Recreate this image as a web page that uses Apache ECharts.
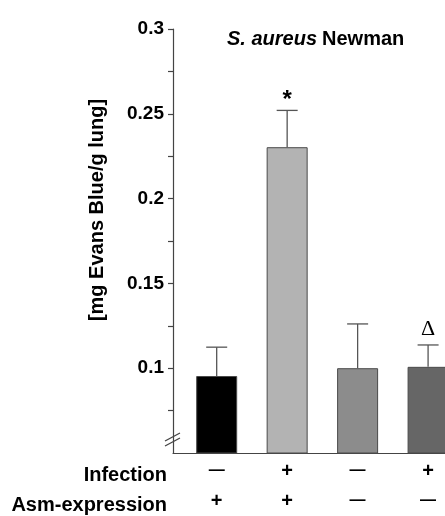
<!DOCTYPE html>
<html>
<head>
<meta charset="utf-8">
<script src="https://cdn.jsdelivr.net/npm/echarts@6/dist/echarts.min.js"></script>
<style>
  html, body { margin: 0; padding: 0; background: #fff; }
  #main { width: 445px; height: 516px; }
</style>
</head>
<body>
<div id="main"></div>
<script>
// groups, left to right
var infection = ['\u2014', '+', '\u2014', '+'];
var asmExpression = ['+', '+', '\u2014', '\u2014'];
// mean [mg Evans Blue/g lung] and upper error (SEM)
var means = [0.0954, 0.2303, 0.1000, 0.1008];
var errors = [0.0170, 0.0217, 0.0261, 0.0129];
var marks = ['', '*', '', '\u0394'];
var barColors = ['#000000', '#b3b3b3', '#8c8c8c', '#666666'];
var yTicks = [0.1, 0.15, 0.2, 0.25, 0.3];

var font = 'Liberation Sans, Arial, sans-serif';
var chart = echarts.init(document.getElementById('main'));

var barData = means.map(function (v, i) {
  return { value: [i, v], itemStyle: { color: barColors[i] } };
});
var errData = means.map(function (v, i) {
  return [i, v, v + errors[i], marks[i]];
});

function sign(s) {
  return s === '+' ? '{p|+}' : '{m|' + s + '}';
}

var option = {
  backgroundColor: '#fff',
  animation: false,
  title: {
    text: '{i|S. aureus} {b|Newman}',
    left: 222,
    top: 24,
    textStyle: {
      rich: {
        i: { fontFamily: font, fontSize: 20, fontWeight: 'bold', fontStyle: 'italic', color: '#000' },
        b: { fontFamily: font, fontSize: 20, fontWeight: 'bold', color: '#000' }
      }
    }
  },
  grid: { left: 173, right: 0, top: 29, bottom: 58 },
  xAxis: {
    type: 'value',
    min: -0.62,
    max: 3.24,
    splitLine: { show: false },
    axisLine: { show: true, onZero: false, lineStyle: { color: '#444', width: 1.2 } },
    axisTick: { show: false },
    axisLabel: {
      customValues: [0, 1, 2, 3],
      margin: 3,
      lineHeight: 30,
      color: '#000',
      formatter: function (v) {
        var i = Math.round(v);
        return sign(infection[i]) + '\n' + sign(asmExpression[i]);
      },
      rich: {
        p: { fontFamily: font, fontSize: 20, fontWeight: 'bold', color: '#000', lineHeight: 30 },
        m: { fontFamily: font, fontSize: 16, fontWeight: 'bold', color: '#000', lineHeight: 30 }
      }
    }
  },
  yAxis: {
    type: 'value',
    min: 0.05,
    max: 0.3,
    interval: 0.05,
    splitLine: { show: false },
    axisLine: { show: true, onZero: false, lineStyle: { color: '#444', width: 1.2 } },
    axisTick: { show: true, customValues: yTicks, length: 5, lineStyle: { color: '#444', width: 1.2 } },
    minorTick: { show: true, splitNumber: 2, length: 5, lineStyle: { color: '#444', width: 1.2 } },
    axisLabel: {
      customValues: yTicks,
      margin: 9,
      fontFamily: font,
      fontSize: 19,
      fontWeight: 'bold',
      color: '#000'
    }
  },
  series: [
    {
      type: 'bar',
      data: barData,
      barWidth: 41,
      itemStyle: { borderColor: '#4a4a4a', borderWidth: 1 }
    },
    {
      type: 'custom',
      data: errData,
      z: 5,
      renderItem: function (params, api) {
        var base = api.coord([api.value(0), api.value(1)]);
        var top = api.coord([api.value(0), api.value(2)]);
        var mark = marks[params.dataIndex];
        var st = { stroke: '#555', lineWidth: 1.3 };
        var children = [
          { type: 'line', shape: { x1: base[0], y1: base[1], x2: top[0], y2: top[1] }, style: st },
          { type: 'line', shape: { x1: top[0] - 10.5, y1: top[1], x2: top[0] + 10.5, y2: top[1] }, style: st }
        ];
        if (mark === '*') {
          children.push({
            type: 'text', x: top[0], y: top[1] - 10,
            style: { text: mark, fontFamily: font, fontSize: 24, fontWeight: 'bold', fill: '#000', align: 'center', verticalAlign: 'middle' }
          });
        } else if (mark) {
          children.push({
            type: 'text', x: top[0], y: top[1] - 16,
            style: { text: mark, fontFamily: 'Liberation Serif, Times New Roman, serif', fontSize: 22, fill: '#000', align: 'center', verticalAlign: 'middle' }
          });
        }
        return { type: 'group', children: children };
      }
    }
  ]
};
chart.setOption(option);

// axis break marks and text labels outside the plot
var ax = chart.convertToPixel({ xAxisIndex: 0 }, -0.62);
var yb = chart.convertToPixel({ yAxisIndex: 0 }, 0.06);
var breakStyle = { stroke: '#444', lineWidth: 1.2 };
chart.setOption({
  graphic: [
    { type: 'line', shape: { x1: ax - 8, y1: yb + 5, x2: ax + 7, y2: yb - 3 }, style: breakStyle },
    { type: 'line', shape: { x1: ax - 8, y1: yb + 10, x2: ax + 7, y2: yb + 2 }, style: breakStyle },
    {
      type: 'text', x: 97, y: 210, rotation: Math.PI / 2,
      style: { text: '[mg Evans Blue/g lung]', fontFamily: font, fontSize: 20, fontWeight: 'bold', fill: '#000', align: 'center', verticalAlign: 'middle' }
    },
    {
      type: 'text', x: 167, y: 475,
      style: { text: 'Infection', fontFamily: font, fontSize: 20, fontWeight: 'bold', fill: '#000', align: 'right', verticalAlign: 'middle' }
    },
    {
      type: 'text', x: 167, y: 505,
      style: { text: 'Asm-expression', fontFamily: font, fontSize: 20, fontWeight: 'bold', fill: '#000', align: 'right', verticalAlign: 'middle' }
    }
  ]
});
</script>
</body>
</html>
